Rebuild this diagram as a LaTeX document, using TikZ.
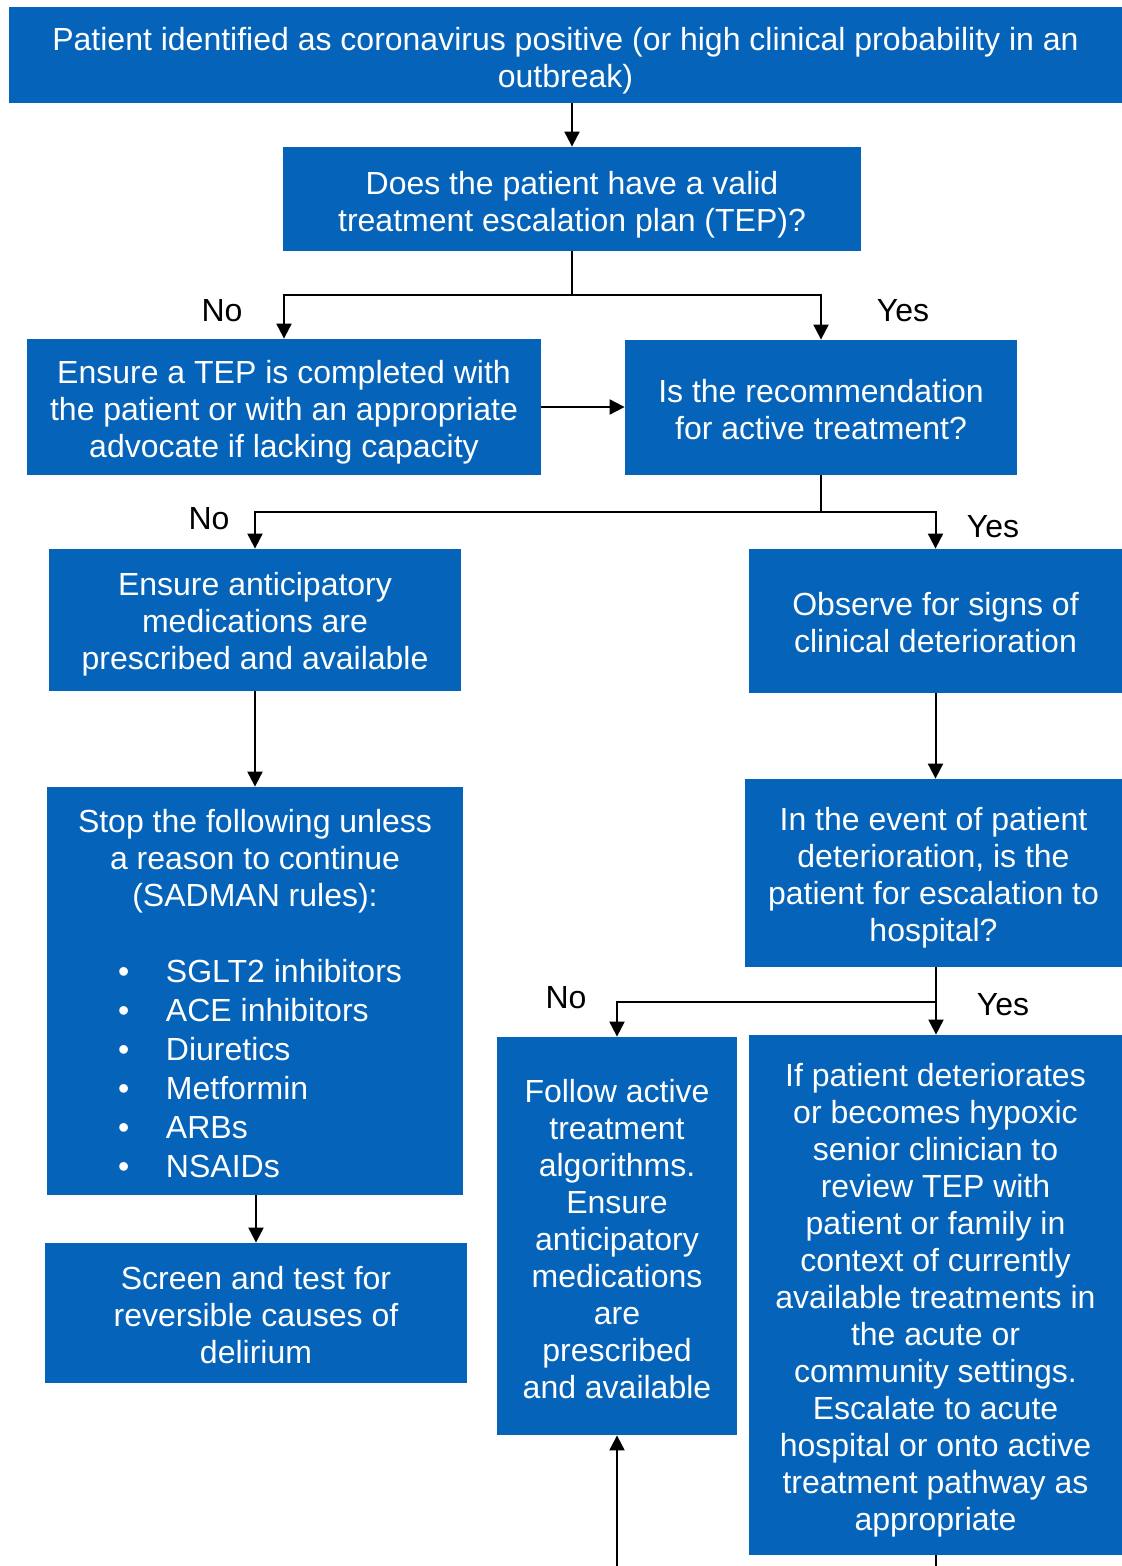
\documentclass[tikz,border=0pt]{standalone}
\usepackage{fontspec}
\setmainfont{Liberation Sans}
\usetikzlibrary{arrows.meta}
\definecolor{boxblue}{RGB}{5,99,185}
\tikzset{
  box/.style={fill=boxblue, inner sep=0pt},
  boxtext/.style={text=white, align=center, inner sep=0pt,
    font=\fontsize{16pt}{18.5pt}\selectfont},
  lbl/.style={anchor=base, inner sep=0pt, font=\fontsize{16pt}{18.5pt}\selectfont},
  conn/.style={line width=1pt, draw=black},
  arr/.style={conn, -{Triangle[width=7.5pt,length=7.5pt]}}
}
\newcommand{\bul}[1]{\makebox[139pt][l]{\makebox[25pt][l]{\hspace{1pt}\textbullet}#1}}
\begin{document}
\begin{tikzpicture}[x=0.5pt,y=-0.5pt]
\useasboundingbox (0,0) rectangle (1122,1566);
% boxes
\node[box, minimum width=556.5pt, minimum height=48pt,
  label={[boxtext, yshift=-3pt]center:{Patient identified as coronavirus positive (or high clinical probability in an\\outbreak)}}] (b1) at (565.5,55) {};
\node[box, minimum width=289pt, minimum height=52pt,
  label={[boxtext, yshift=-3pt]center:{Does the patient have a valid\\treatment escalation plan (TEP)?}}] (b2) at (572,199) {};
\node[box, minimum width=257pt, minimum height=68pt,
  label={[boxtext, yshift=-2.5pt]center:{Ensure a TEP is completed with\\the patient or with an appropriate\\advocate if lacking capacity}}] (b3) at (284,407) {};
\node[box, minimum width=196pt, minimum height=67.5pt,
  label={[boxtext, yshift=-1pt]center:{Is the recommendation\\for active treatment?}}] (b4) at (821,407.5) {};
\node[box, minimum width=206pt, minimum height=71pt,
  label={[boxtext, yshift=-2pt]center:{Ensure anticipatory\\medications are\\prescribed and available}}] (b5) at (255,620) {};
\node[box, minimum width=186.5pt, minimum height=72pt,
  label={[boxtext, yshift=-1pt]center:{Observe for signs of\\clinical deterioration}}] (b6) at (935.5,621) {};
\node[box, minimum width=208pt, minimum height=204pt,
  label={[boxtext, yshift=-1.5pt]center:{Stop the following unless\\a reason to continue\\(SADMAN rules):\\[19.5pt]
   \bul{SGLT2 inhibitors}\\[1pt]
   \bul{ACE inhibitors}\\[1pt]
   \bul{Diuretics}\\[1pt]
   \bul{Metformin}\\[1pt]
   \bul{ARBs}\\[1pt]
   \bul{NSAIDs}}}] (b7) at (255,991) {};
\node[box, minimum width=188.5pt, minimum height=94pt,
  label={[boxtext, yshift=-2.5pt]center:{In the event of patient\\deterioration, is the\\patient for escalation to\\hospital?}}] (b8) at (933.5,873) {};
\node[box, minimum width=120pt, minimum height=199pt,
  label={[boxtext, yshift=-1.5pt]center:{Follow active\\treatment\\algorithms.\\Ensure\\anticipatory\\medications\\are\\prescribed\\and available}}] (b9) at (617,1236) {};
\node[box, minimum width=186.5pt, minimum height=260pt,
  label={[boxtext, yshift=-2.8pt]center:{If patient deteriorates\\or becomes hypoxic\\senior clinician to\\review TEP with\\patient or family in\\context of currently\\available treatments in\\the acute or\\community settings.\\Escalate to acute\\hospital or onto active\\treatment pathway as\\appropriate}}] (b10) at (935.5,1295) {};
\node[box, minimum width=211pt, minimum height=70pt,
  label={[boxtext, yshift=-1pt]center:{Screen and test for\\reversible causes of\\delirium}}] (b11) at (256,1313) {};
% labels
\node[lbl] (n1) at (222,322) {No};
\node[lbl] (y1) at (903,322) {Yes};
\node[lbl] (n2) at (209,530) {No};
\node[lbl] (y2) at (993,538) {Yes};
\node[lbl] (n3) at (566,1008) {No};
\node[lbl] (y3) at (1003,1015) {Yes};
% junctions
\coordinate (j1) at (572,295);
\coordinate (j2) at (821,512);
\coordinate (j3) at (936,1002);
\coordinate (bot9) at (617,1566);
\coordinate (bot10) at (936,1566);
% connectors
\draw[arr] (b2.north |- b1.south) -- (b2.north);
\draw[conn] (b2.south) -- (j1);
\draw[arr] (j1) -| (b3.north);
\draw[arr] (j1) -| (b4.north);
\draw[arr] (b3.east) -- (b4.west |- b3.east);
\draw[conn] (b4.south) -- (j2);
\draw[arr] (j2) -| (b5.north);
\draw[arr] (j2) -| (b6.north);
\draw[arr] (b5.south) -- (b7.north);
\draw[arr] (b6.south) -- (b6.south |- b8.north);
\draw[conn] (j3 |- b8.south) -- (j3);
\draw[arr] (j3) -| (b9.north);
\draw[arr] (j3) -- (j3 |- b10.north);
\draw[arr] (b11.north |- b7.south) -- (b11.north);
\draw[arr] (bot9) -- (b9.south);
\draw[conn] (j3 |- b10.south) -- (bot10);
\end{tikzpicture}
\end{document}
